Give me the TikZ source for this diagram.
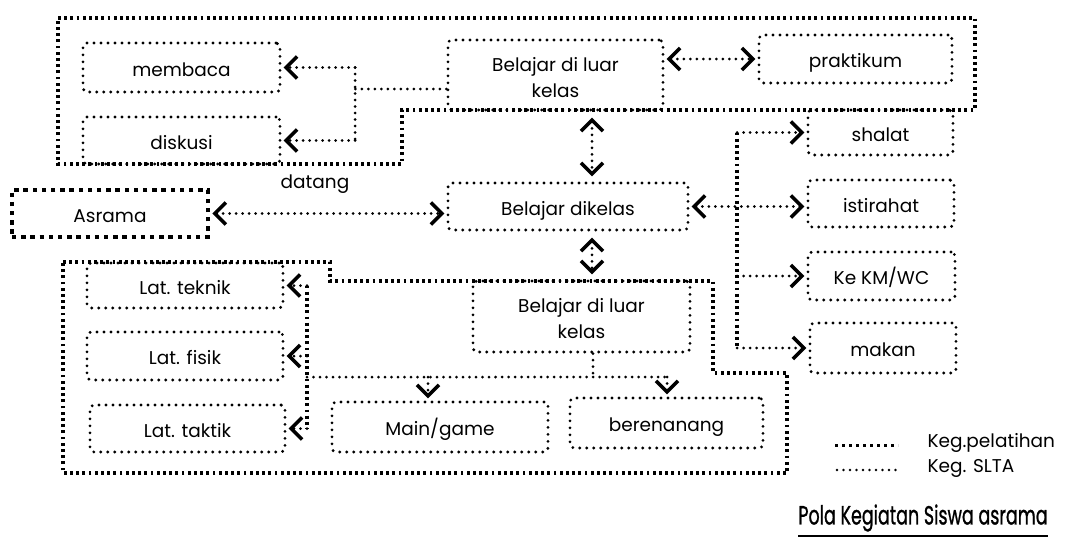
\documentclass[tikz,border=0pt]{standalone}
\usepackage{fontspec}
\setmainfont{Poppins}
\newfontfamily\captionfont{Poppins}[FakeBold=1.2]
\usetikzlibrary{arrows.meta}
\newcommand{\twolines}[2]{\begin{tabular}{@{}c@{}}#1\\#2\end{tabular}}
\begin{document}
\begin{tikzpicture}[x=1pt,y=-1pt,
  every node/.style={font=\fontsize{18.5}{26}\selectfont},
  sz/.style 2 args={minimum width=#1pt, minimum height=#2pt},
  box/.style={draw, line width=3.2pt, dash pattern=on 0pt off 7pt, line cap=round,
    rounded corners=4pt, inner sep=0pt, text height=17pt, text depth=0pt},
  heavybox/.style={draw, line width=4.6pt, dash pattern=on 4.4pt off 4.8pt, inner sep=0pt,
    text height=17pt, text depth=0pt},
  region/.style={draw, line width=3.2pt, dash pattern=on 2.8pt off 3.4pt},
  link/.style={draw, line width=3pt, dash pattern=on 0pt off 6.5pt, line cap=round},
  chev/.tip={Straight Barb[length=11pt,width=22pt,line width=3.6pt]},
  tip/.style={-chev, shorten >=2pt},
  tips/.style={chev-chev, shorten >=2pt, shorten <=2pt},
]
\fill[white] (0,0) rectangle (1072,541);
\useasboundingbox (0,0) rectangle (1072,541);

% outlines of the two activity groups
\draw[region] (58,18) -- (975,18) -- (975,110) -- (402,110) -- (402,164) -- (58,164) -- cycle;
\draw[region] (63,262) -- (330,262) -- (330,281) -- (713,281) -- (713,373) -- (787,373)
  -- (787,473) -- (63,473) -- cycle;

% activity boxes
\node[box, sz={197}{49}] (membaca) at (181.5,67.5) {membaca};
\node[box, sz={197}{47}] (diskusi) at (181.5,140.5) {diskusi};
\node[box, sz={215}{70}] (luar1) at (555.5,75) {\twolines{Belajar di luar}{kelas}};
\node[box, sz={193}{48}] (praktikum) at (855.5,59) {praktikum};
\node[box, sz={145}{45}] (shalat) at (880.5,132.5) {shalat};
\node[box, sz={146}{47}] (istirahat) at (881,203.5) {istirahat};
\node[box, sz={147}{48}] (kmwc) at (881.5,276) {Ke KM/WC};
\node[box, sz={146}{50}] (makan) at (883,348) {makan};
\node[heavybox, sz={196}{47}] (asrama) at (110,213.5) {Asrama\hspace{14pt}};
\node[box, sz={240}{47}] (dikelas) at (568,206.5) {Belajar dikelas};
\node[box, sz={217}{71}] (luar2) at (581.5,316.5) {\twolines{Belajar di luar}{kelas}};
\node[box, sz={196}{45}] (teknik) at (185,285.5) {Lat. teknik};
\node[box, sz={196}{48}] (fisik) at (185,356) {Lat. fisik};
\node[box, sz={195}{47}] (taktik) at (187.5,428.5) {Lat. taktik};
\node[box, sz={216}{50}] (main) at (440,427) {Main/game};
\node[box, sz={193}{50}] (renang) at (666.5,423) {berenanang};

% top group links
\coordinate (jc) at (355,89);
\coordinate (jm) at (355,67.5);
\coordinate (jd) at (355,140.5);
\draw[link] (luar1.west |- jc) -- (jc);
\draw[link] (jm) -- (jd);
\draw[link,tip] (jm) -- (membaca.east);
\draw[link,tip] (jd) -- (diskusi.east);
\draw[link,tips] (luar1.east |- praktikum.west) -- (praktikum.west);

% central column
\coordinate (cx) at (592,0);
\draw[link,tips,shorten >=5pt,shorten <=6pt] (luar1.south -| cx) -- (dikelas.north -| cx);
\draw[link,tips,shorten >=5pt,shorten <=6pt] (dikelas.south -| cx) -- (luar2.north -| cx);
\draw[link,tips] (asrama.east) -- (asrama.east -| dikelas.west);
\node (datang) at (315,184) {datang};
\draw[link,tips] (dikelas.east) -- (dikelas.east -| istirahat.west);

% daily needs branch
\coordinate (vt) at (737,132.5);
\coordinate (vb) at (737,348);
\draw[region] (vt) -- (vb);
\draw[link,tip] (vt) -- (shalat.west);
\draw[link,tip] (vt |- kmwc.west) -- (kmwc.west);
\draw[link,tip] (vb) -- (makan.west);

% bottom group links
\coordinate (lt) at (307,285.5);
\coordinate (lb) at (307,428.5);
\draw[region] (lt) -- (lb);
\draw[link,tip] (lt) -- (teknik.east);
\draw[link,tip] (lt |- fisik.east) -- (fisik.east);
\draw[link,tip] (lb) -- (taktik.east);
\coordinate (hl) at (307,377);
\coordinate (hr) at (667,377);
\coordinate (hm) at (428,377);
\coordinate (hd) at (593,377);
\draw[link] (luar2.south -| hd) -- (hd);
\draw[link] (hl) -- (hr);
\draw[link,tip] (hm) -- (hm |- main.north);
\draw[link,tip] (hr) -- (hr |- renang.north);

% legend
\coordinate (la1) at (835,445);
\coordinate (lb1) at (898,445);
\coordinate (la2) at (837,470);
\coordinate (lb2) at (898,470);
\draw[line width=3pt, dash pattern=on 2.6pt off 4.4pt] (la1) -- (lb1);
\draw[line width=2.6pt, dash pattern=on 0pt off 6.5pt, line cap=round] (la2) -- (lb2);
\node[anchor=west, font=\fontsize{18.5}{22}\selectfont] (leg1) at (924,443) {Keg.pelatihan};
\node[anchor=west, font=\fontsize{18.5}{22}\selectfont] (leg2) at (924,468) {Keg. SLTA};

% caption
\node[font=\captionfont\fontsize{17.5}{20}\selectfont, inner sep=0pt] (title) at (923,518)
  {\scalebox{1}[1.5]{Pola Kegiatan Siswa asrama}};
\draw[line width=2pt] ([yshift=-4pt]title.south west) -- ([yshift=-4pt]title.south east);
\end{tikzpicture}
\end{document}
